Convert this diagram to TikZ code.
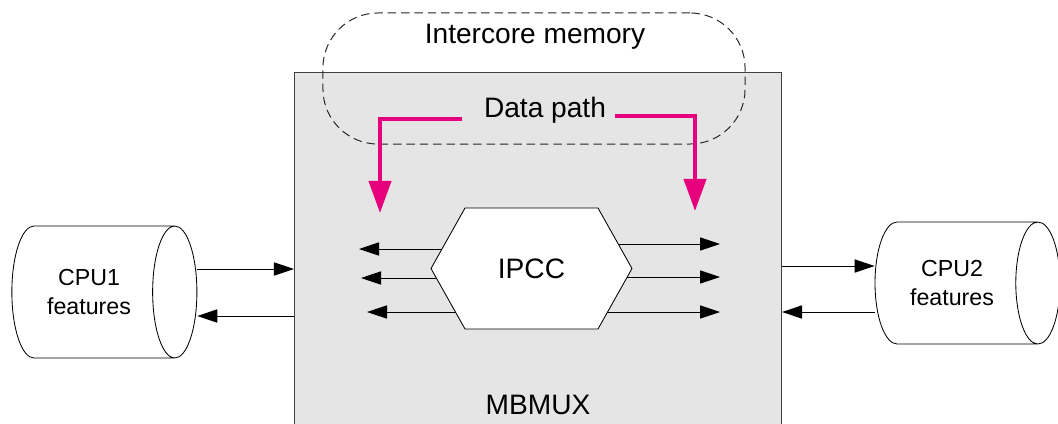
\documentclass[tikz,border=0pt]{standalone}
\usepackage{fontspec}
\setmainfont{Liberation Sans}
\usetikzlibrary{calc}
\usetikzlibrary{arrows.meta}
\usetikzlibrary{shapes.geometric}

\definecolor{stpink}{RGB}{230,0,126}
\tikzset{
  big/.style={font=\fontsize{20}{24}\selectfont},
  small/.style={font=\fontsize{16.5}{21}\selectfont, align=center},
  link/.style={line width=0.7pt, -{Triangle[length=0.5cm,width=0.33cm]}},
  datapath/.style={stpink, line width=2.9pt, -{Triangle[length=0.8cm,width=0.55cm]}},
  cpu/.style={draw, line width=0.6pt, fill=white, cylinder, aspect=0.8,
    minimum width=3.3cm, minimum height=4.625cm, small},
}

\begin{document}
\begin{tikzpicture}[x=0.025cm, y=-0.025cm]
  \clip (0,0) rectangle (1058,423);
  % mailbox block
  \node[draw=black!75, fill=black!10, line width=0.7pt, anchor=north west,
    minimum width=12.175cm, minimum height=10cm] (mbmux) at (294,72) {};
  \node[big, anchor=base] (mbmuxtext) at (538,414) {MBMUX};
  % shared memory
  \node[draw=black!85, line width=0.7pt, dash pattern=on 6pt off 3.5pt,
    rounded corners=1.375cm, minimum width=10.55cm, minimum height=3.275cm] (icm) at (534,78.5) {};
  \node[big, anchor=base] (icmtext) at (535,43) {Intercore memory};
  \node[big, anchor=base] (dp) at (545,117) {Data path};
  \coordinate (sl) at (462,119);
  \coordinate (tl) at (380,213);
  \coordinate (sr) at (615,116);
  \coordinate (tr) at (695,211);
  \draw[datapath] (sl) -| (tl);
  \draw[datapath] (sr) -| (tr);
  % IPCC and its channels
  \coordinate (hub) at (531.5,268.5);
  \coordinate (l1) at (359,249);
  \coordinate (l2) at (361,278);
  \coordinate (l3) at (367,312);
  \coordinate (r1) at (720,244);
  \coordinate (r2) at (720,277);
  \coordinate (r3) at (720,312);
  \draw[link] (l1 -| hub) -- (l1);
  \draw[link] (l2 -| hub) -- (l2);
  \draw[link] (l3 -| hub) -- (l3);
  \draw[link] (r1 -| hub) -- (r1);
  \draw[link] (r2 -| hub) -- (r2);
  \draw[link] (r3 -| hub) -- (r3);
  \draw[fill=white, line width=0.6pt] ($(hub)+(-100.5,0)$) -- ++(34,-60.5) -- ++(133,0)
    -- ++(34,60.5) -- ++(-34,60.5) -- ++(-133,0) -- cycle;
  \node[big] (ipcc) at (hub) {IPCC};
  % cores
  \node[cpu] (cpu1) at (89,292) {CPU1\\features};
  \node[cpu, minimum width=3.05cm] (cpu2) at (952,283) {CPU2\\features};
  \draw[link] (cpu1.east |- 0,269) -- (mbmux.west |- 0,269);
  \draw[link] (mbmux.west |- 0,316) -- (cpu1.east |- 0,316);
  \draw[link] (mbmux.east |- 0,266) -- (cpu2.west |- 0,266);
  \draw[link] (cpu2.west |- 0,312) -- (mbmux.east |- 0,312);
\end{tikzpicture}
\end{document}
